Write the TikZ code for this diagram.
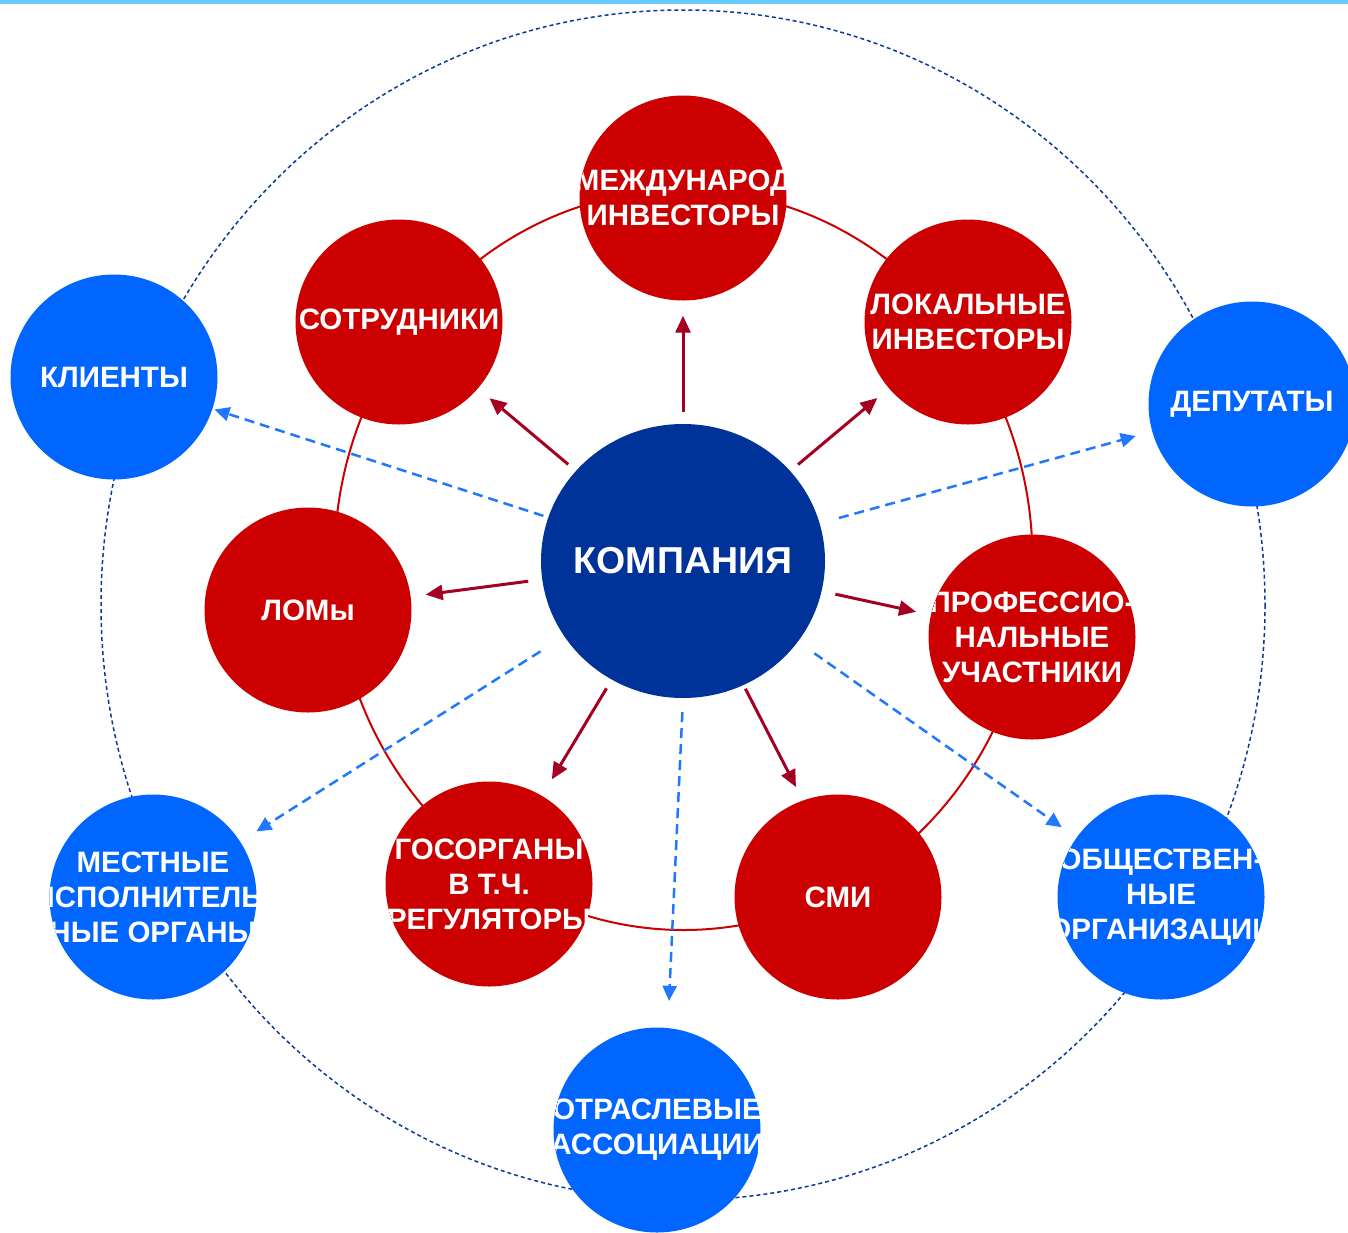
\documentclass[tikz,border=0pt]{standalone}
\usepackage{fontspec}
\setmainfont{Liberation Sans}
\usetikzlibrary{shapes.geometric,arrows.meta}
\definecolor{cRed}{HTML}{CC0000}
\definecolor{cBlue}{HTML}{0066FF}
\definecolor{cComp}{HTML}{003399}
\definecolor{cArrRed}{HTML}{A50021}
\definecolor{cArrBlue}{HTML}{1F78FF}
\definecolor{cOuter}{HTML}{0A3A9A}
\definecolor{cBar}{HTML}{66CCFF}
\begin{document}
\begin{tikzpicture}[x=1pt,y=-1pt,
  lbl/.style={text=white, align=center, inner sep=0pt,
    font=\fontsize{29.5}{35}\selectfont\bfseries},
  circ/.style={ellipse, minimum width=207pt, minimum height=205pt, inner sep=0pt,
    path picture={\node[lbl] at (path picture bounding box.center) {#1};}},
  rc/.style={circ={#1}, fill=cRed},
  bc/.style={circ={#1}, fill=cBlue},
  ring/.style={draw=cRed, line width=2pt},
  outer/.style={draw=cOuter, line width=1.5pt, dash pattern=on 4pt off 3pt},
  redarr/.style={draw=cArrRed, line width=3pt, -{Triangle[length=17pt,width=15pt]}},
  bluearr/.style={draw=cArrBlue, line width=2.5pt, dash pattern=on 10pt off 6pt,
    -{Triangle[length=15pt,width=14pt]}}
]
\useasboundingbox (0,0) rectangle (1348,1232);
\fill[cBar] (0,0) rectangle (1348,3.5);
\draw[outer] (683,605) ellipse [x radius=582, y radius=595];
\draw[ring] (683.5,560) ellipse [x radius=349, y radius=370];

% company
\node[ellipse, fill=cComp, minimum width=284pt, minimum height=274pt, inner sep=0pt,
  path picture={\node[text=white, inner sep=0pt, font=\fontsize{37.5}{42}\selectfont\bfseries]
  at (path picture bounding box.center) {КОМПАНИЯ};}] (comp) at (683,561) {};

% red circles
\node[rc={МЕЖДУНАРОД\\ИНВЕСТОРЫ}] (intl) at (683,198) {};
\node[rc={ЛОКАЛЬНЫЕ\\ИНВЕСТОРЫ}] (loc) at (968,322) {};
\node[rc={ПРОФЕССИО-\\НАЛЬНЫЕ\\УЧАСТНИКИ}] (prof) at (1032,637) {};
\node[rc={СМИ}] (smi) at (838,897) {};
\node[rc={ГОСОРГАНЫ\\В Т.Ч.\\РЕГУЛЯТОРЫ}] (gos) at (489,884) {};
\node[rc={ЛОМы}] (lom) at (308,610) {};
\node[rc={СОТРУДНИКИ}] (sotr) at (399,322) {};

% blue circles
\node[bc={КЛИЕНТЫ}] (kli) at (114,377) {};
\node[bc={ДЕПУТАТЫ}] (dep) at (1252,404) {};
\node[bc={МЕСТНЫЕ\\ИСПОЛНИТЕЛЬ-\\НЫЕ ОРГАНЫ}] (mest) at (153,897) {};
\node[bc={ОБЩЕСТВЕН-\\НЫЕ\\ОРГАНИЗАЦИИ}] (obsh) at (1161,897) {};
\node[bc={ОТРАСЛЕВЫЕ\\АССОЦИАЦИИ}] (otr) at (657,1130) {};

% red arrows
\draw[redarr, shorten <=12pt, shorten >=15pt] (comp) -- (intl);
\draw[redarr, shorten <=10pt, shorten >=15pt] (comp) -- (sotr);
\draw[redarr, shorten <=10pt, shorten >=15pt] (comp) -- (loc);
\draw[redarr, shorten <=14pt, shorten >=15pt] (comp) -- (lom);
\draw[redarr, shorten <=14pt, shorten >=15pt] (comp) -- (prof);
\draw[redarr, shorten <=10pt, shorten >=19pt] (comp) -- (gos);
\draw[redarr, shorten <=4pt, shorten >=15pt] (comp.-64) -- (smi.110);

% blue dashed arrows
\draw[bluearr, shorten <=5pt, shorten >=2pt] (comp) -- (kli);
\draw[bluearr, shorten <=20pt, shorten >=17pt] (comp) -- (dep);
\draw[bluearr, shorten <=28pt, shorten >=19pt] (comp) -- (mest);
\draw[bluearr, shorten <=20pt, shorten >=18pt] (comp) -- (obsh);
\draw[bluearr, shorten <=14pt, shorten >=27pt] (comp.south) -- (otr.84);
\end{tikzpicture}
\end{document}
